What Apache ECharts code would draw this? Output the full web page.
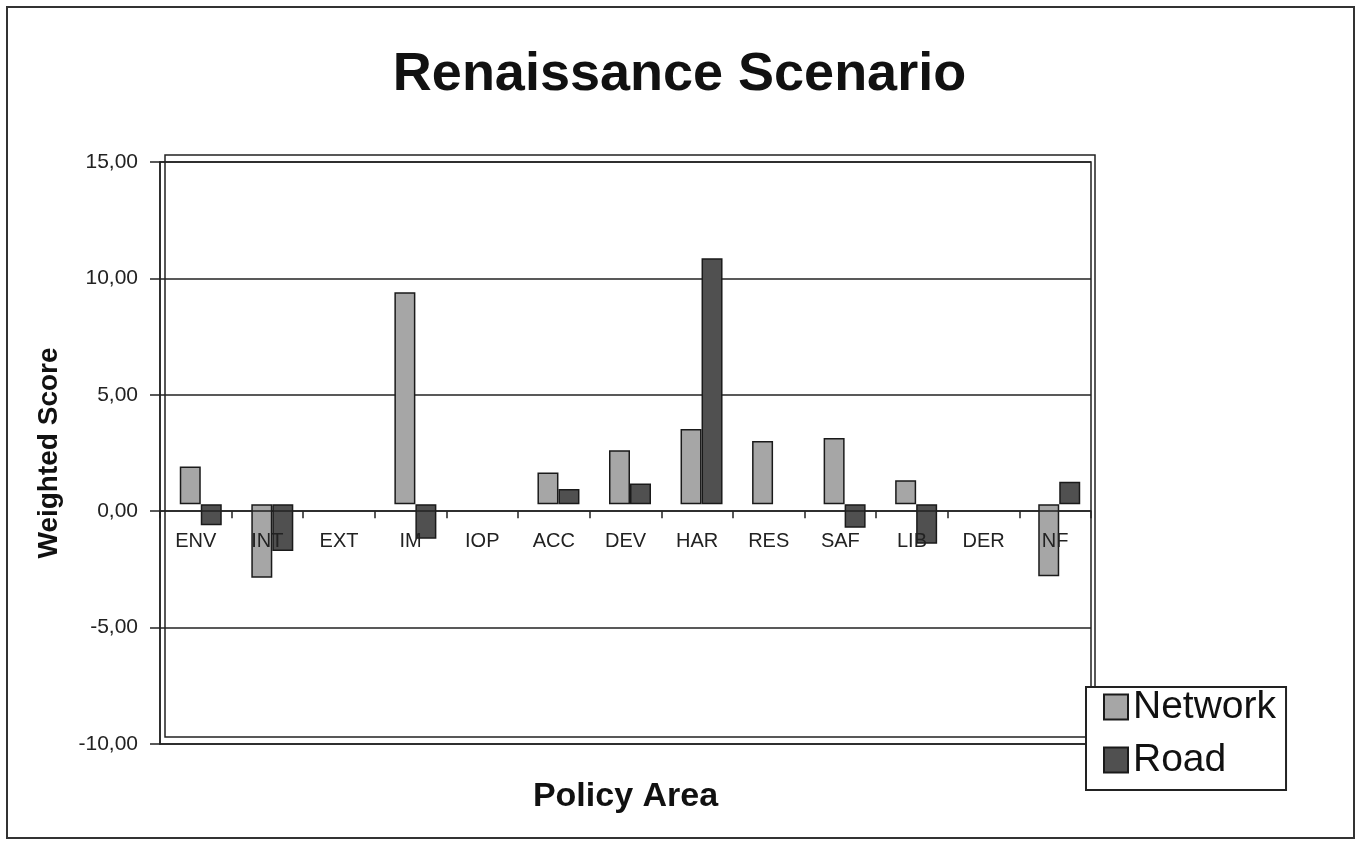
<!DOCTYPE html>
<html>
<head>
<meta charset="utf-8">
<title>Renaissance Scenario</title>
<script src="https://cdn.jsdelivr.net/npm/echarts@6/dist/echarts.min.js"></script>
<style>
  html, body { margin: 0; padding: 0; background: #fff; }
  #chart { width: 1359px; height: 841px; }
</style>
</head>
<body>
<div id="chart"></div>
<script>
// policy areas on the x axis
const categories = ['ENV', 'INT', 'EXT', 'IM', 'IOP', 'ACC', 'DEV', 'HAR', 'RES', 'SAF', 'LIB', 'DER', 'NF'];
// weighted scores (null = no bar)
const network = [1.62, -3.16, null, 9.10, null, 1.36, 2.32, 3.23, 2.72, 2.84, 1.03, null, -3.09];
const road = [-0.90, -2.01, null, -1.48, null, 0.65, 0.89, 10.57, null, -1.01, -1.70, null, 0.96];
// y scale
const yMin = -10;
const yMax = 15;
const yStep = 5;

const font = "'Liberation Sans', Arial, sans-serif";
const line = '#222';

// front plot area
const plotTop = 162;
const plotBottom = 97;
const plotHeight = 841 - plotTop - plotBottom;
// lift the category axis from the bottom edge up to the zero line
const zeroOffset = -plotHeight * (0 - yMin) / (yMax - yMin);

const chart = echarts.init(document.getElementById('chart'));

chart.setOption({
  backgroundColor: '#fff',
  animation: false,
  textStyle: { fontFamily: font },
  title: {
    text: 'Renaissance Scenario',
    left: 'center',
    top: 43,
    textStyle: { fontSize: 54, fontWeight: 'bold', color: '#111', fontFamily: font }
  },
  graphic: [{
    type: 'rect',
    shape: { x: 7, y: 7, width: 1347, height: 831 },
    style: { fill: null, stroke: '#333', lineWidth: 2 },
    z: -1
  }],
  legend: {
    orient: 'vertical',
    left: 1086,
    top: 687,
    align: 'left',
    padding: [0, 10, 10, 17],
    itemWidth: 24,
    itemHeight: 25,
    itemGap: 13,
    icon: 'rect',
    backgroundColor: '#fff',
    borderColor: line,
    borderWidth: 2,
    textStyle: { fontSize: 39, lineHeight: 40, color: '#111', fontFamily: font },
    z: 10
  },
  grid: [
    // front plane: axes, gridlines
    { left: 160, right: 268, top: plotTop, bottom: plotBottom, show: true, borderColor: line, borderWidth: 1.5 },
    // back plane: bars, offset for the 3D depth look
    { left: 165, right: 264, top: 155, bottom: 104, show: true, borderColor: line, borderWidth: 1.5 }
  ],
  xAxis: [
    {
      gridIndex: 0,
      type: 'category',
      data: categories,
      position: 'bottom',
      offset: zeroOffset,
      z: 5,
      axisLine: { onZero: false, lineStyle: { color: line, width: 1.5 } },
      axisTick: { show: true, length: 7, inside: false, lineStyle: { color: line, width: 1.5 } },
      axisLabel: { fontSize: 20, color: '#222', margin: 20, fontFamily: font },
      splitLine: { show: false }
    },
    {
      gridIndex: 0,
      type: 'category',
      data: categories,
      position: 'bottom',
      axisLine: { show: false, onZero: false },
      axisTick: { show: false },
      axisLabel: { show: false },
      name: 'Policy Area',
      nameLocation: 'middle',
      nameGap: 36,
      nameTextStyle: { fontSize: 34, fontWeight: 'bold', color: '#111', fontFamily: font }
    },
    { gridIndex: 1, type: 'category', data: categories, show: false }
  ],
  yAxis: [
    {
      gridIndex: 0,
      type: 'value',
      min: yMin,
      max: yMax,
      interval: yStep,
      name: 'Weighted Score',
      nameLocation: 'middle',
      nameRotate: 90,
      nameGap: 97,
      nameTextStyle: { fontSize: 28, fontWeight: 'bold', color: '#111', fontFamily: font },
      axisLine: { show: true, lineStyle: { color: line, width: 1.5 } },
      axisTick: { show: true, length: 10, lineStyle: { color: line, width: 1.5 } },
      axisLabel: {
        fontSize: 21,
        color: '#222',
        margin: 22,
        fontFamily: font,
        formatter: v => v.toFixed(2).replace('.', ',')
      },
      splitLine: { show: true, lineStyle: { color: line, width: 1.5 } }
    },
    { gridIndex: 1, type: 'value', min: yMin, max: yMax, interval: yStep, show: false, splitLine: { show: false } }
  ],
  series: [
    {
      name: 'Network',
      type: 'bar',
      xAxisIndex: 2,
      yAxisIndex: 1,
      data: network,
      barWidth: 21,
      barGap: '0%',
      itemStyle: { color: '#a6a6a6', borderColor: '#1a1a1a', borderWidth: 1.5 }
    },
    {
      name: 'Road',
      type: 'bar',
      xAxisIndex: 2,
      yAxisIndex: 1,
      data: road,
      barWidth: 21,
      barGap: '0%',
      itemStyle: { color: '#505050', borderColor: '#1a1a1a', borderWidth: 1.5 }
    }
  ]
});
</script>
</body>
</html>
